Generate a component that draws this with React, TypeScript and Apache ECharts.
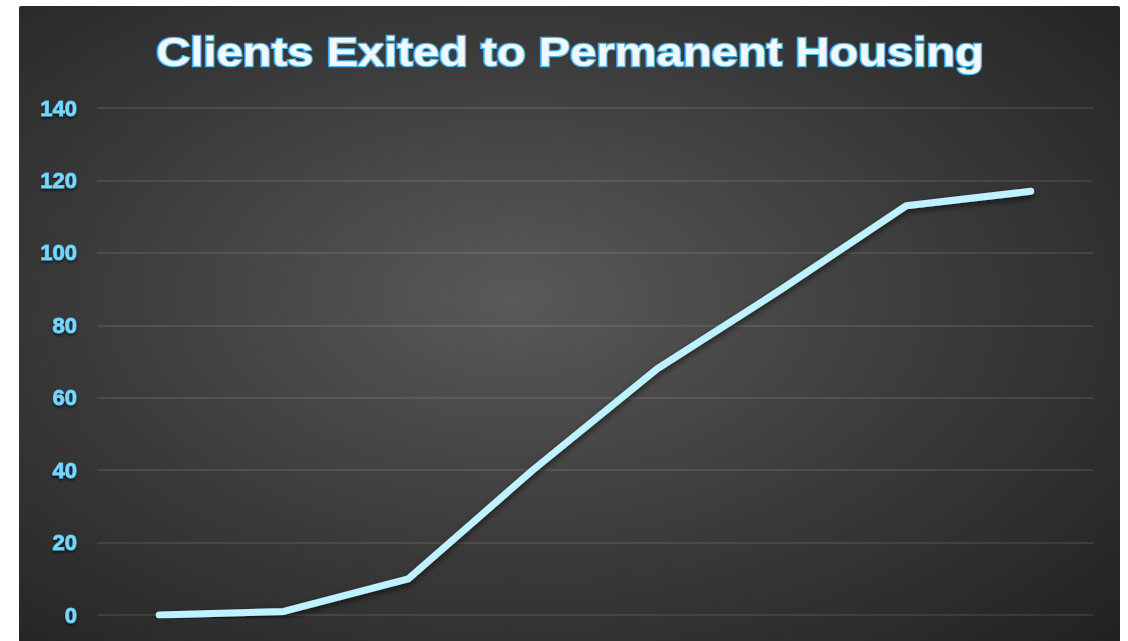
import React, { useEffect, useRef } from "react";
import * as echarts from "echarts";

const titleText = "Clients Exited to Permanent Housing";
const categories = ["P1", "P2", "P3", "P4", "P5", "P6", "P7", "P8"];
const exitedValues = [0, 1, 10, 40, 68, 90, 113, 117];
const yTicks = { min: 0, max: 140, interval: 20 };

export default function App() {
  const ref = useRef<HTMLDivElement>(null);
  useEffect(() => {
    if (!ref.current) return;
    const chart = echarts.init(ref.current, undefined, { renderer: "svg" });
    chart.setOption({
      animation: false,
      backgroundColor: "#ffffff",
      graphic: [
        {
          type: "rect",
          z: -10,
          shape: { x: 19, y: 6, width: 1101, height: 650, r: 2 },
          style: {
            fill: new echarts.graphic.RadialGradient(0.45, 0.45, 0.75, [
              { offset: 0, color: "#595959" },
              { offset: 0.55, color: "#393939" },
              { offset: 1, color: "#222222" },
            ]),
          },
        },
        {
          type: "text",
          z: 10,
          x: 570,
          y: 52,
          scaleX: 1.15,
          style: {
            text: titleText,
            align: "center",
            verticalAlign: "middle",
            fontFamily: "Liberation Sans, Arial, sans-serif",
            fontWeight: "bold",
            fontSize: 41,
            fill: "#eef8fd",
            stroke: "#47b9ee",
            lineWidth: 2.5,
            shadowColor: "rgba(0,0,0,0.7)",
            shadowBlur: 5,
            shadowOffsetY: 3,
          },
        },
      ],
      grid: { left: 97, right: 35, top: 108, bottom: 26, containLabel: false },
      xAxis: {
        type: "category",
        data: categories,
        boundaryGap: true,
        axisLine: { show: false },
        axisTick: { show: false },
        axisLabel: { show: false },
      },
      yAxis: {
        type: "value",
        min: yTicks.min,
        max: yTicks.max,
        interval: yTicks.interval,
        axisLine: { show: false },
        axisTick: { show: false },
        splitLine: { lineStyle: { color: "rgba(255,255,255,0.13)", width: 1.5 } },
        axisLabel: {
          margin: 20,
          fontFamily: "Liberation Sans, Arial, sans-serif",
          fontWeight: "bold",
          fontSize: 22,
          color: "#7dd6fa",
          textBorderColor: "#45b8ec",
          textBorderWidth: 1,
          textShadowColor: "rgba(0,0,0,0.6)",
          textShadowBlur: 3,
          textShadowOffsetY: 2,
        },
      },
      series: [
        {
          type: "line",
          data: exitedValues,
          symbol: "none",
          lineStyle: {
            color: "#bff2ff",
            width: 7,
            cap: "round",
            join: "round",
            shadowColor: "rgba(0,0,0,0.6)",
            shadowBlur: 6,
            shadowOffsetY: 3,
          },
        },
      ],
    });
    return () => chart.dispose();
  }, []);
  return (
    <div
      ref={ref}
      style={{ position: "fixed", left: 0, top: 0, width: 1128, height: 641 }}
    />
  );
}
